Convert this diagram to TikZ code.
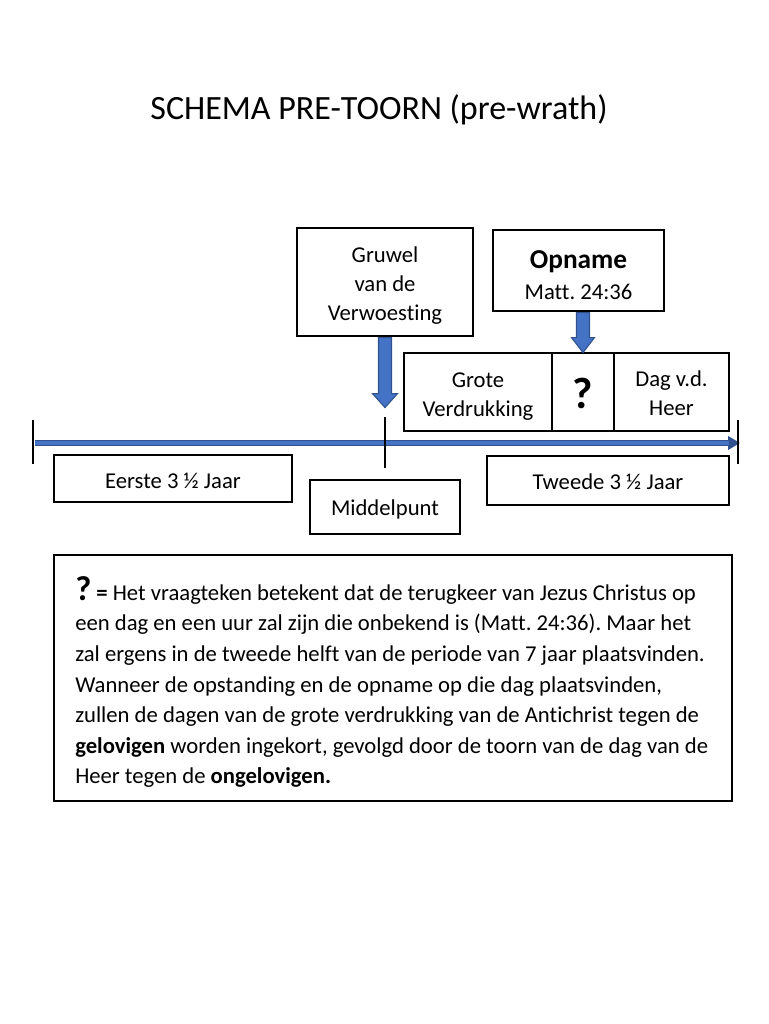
\documentclass[tikz,border=0pt]{standalone}
\usepackage{fontspec}
\setmainfont{Carlito}[Ligatures=NoCommon]
\usetikzlibrary{calc,arrows.meta}
\definecolor{arrowblue}{HTML}{4472C4}
\definecolor{arrowedge}{HTML}{2F528F}
\frenchspacing
\begin{document}
\begin{tikzpicture}[x=0.75pt,y=-0.75pt,
  box/.style={draw=black, line width=0.9pt, inner sep=0pt},
  lbl/.style={inner sep=0pt, align=center, font=\fontsize{17}{21.75}\selectfont},
  blockarrow/.style={fill=arrowblue, draw=arrowedge, line width=0.8pt},
  tick/.style={draw=black, line width=0.8pt}]
\useasboundingbox (0,0) rectangle (768,1024);

% title
\node[font=\fontsize{25.5}{30}\selectfont] (title) at (379,110) {SCHEMA PRE-TOORN (pre-wrath)};

% top boxes
\node[box, minimum width=132pt, minimum height=81pt,
  label={[lbl,yshift=-3pt]center:Gruwel\\van de\\Verwoesting}] (gruwel) at (385,282) {};
\node[box, minimum width=128.25pt, minimum height=60.75pt,
  label={[lbl,yshift=-3.5pt]center:{\fontsize{20.5}{24}\selectfont\bfseries Opname}\\[1pt]Matt. 24:36}] (opname) at (578.5,270.5) {};

% three-part box
\node[box, minimum width=111pt, minimum height=58.5pt,
  label={[lbl,yshift=-3.2pt]center:Grote\\Verdrukking}] (grote) at (478,392) {};
\node[box, minimum width=46.5pt, minimum height=58.5pt,
  label={[lbl,yshift=-0.8pt]center:{\fontsize{33}{34}\selectfont\bfseries ?}}] (q) at (583,392) {};
\node[box, minimum width=86.25pt, minimum height=58.5pt,
  label={[lbl,yshift=-1pt]center:Dag v.d.\\Heer}] (dag) at (671.5,392) {};

% block arrows
\draw[blockarrow] (gruwel.south) ++(-6.5,1) -- ++(0,56) -- ++(-6,0) -- ++(12.5,14)
  -- ++(12.5,-14) -- ++(-6,0) -- ++(0,-56) -- cycle;
\draw[blockarrow] (q.north |- opname.south) ++(-6.5,1) -- ++(0,25) -- ++(-5,0) -- ++(11.5,15)
  -- ++(11.5,-15) -- ++(-5,0) -- ++(0,-25) -- cycle;

% timeline
\coordinate (tl) at (35,443);
\coordinate (tr) at (740,443);
\draw[draw=arrowedge, line width=4.5pt, -{Triangle[length=9pt,width=10pt]}] (tl) -- (tr);
\draw[draw=arrowblue, line width=2.4pt, shorten >=8pt] (tl) -- (tr);
\coordinate (t1a) at (33,420); \coordinate (t1b) at (33,464);
\coordinate (t2a) at (385,417); \coordinate (t2b) at (385,468);
\coordinate (t3a) at (738,420); \coordinate (t3b) at (738,464);
\draw[tick] (t1a) -- (t1b);
\draw[tick] (t2a) -- (t2b);
\draw[tick] (t3a) -- (t3b);

% bottom boxes
\node[box, minimum width=178.5pt, minimum height=35.25pt,
  label={[lbl,yshift=-2pt]center:Eerste 3 ½ Jaar}] (eerste) at (173,478.5) {};
\node[box, minimum width=112.5pt, minimum height=40.5pt,
  label={[lbl,yshift=-1.5pt]center:Middelpunt}] (midden) at (385,507) {};
\node[box, minimum width=181.5pt, minimum height=36.75pt,
  label={[lbl,yshift=-0.8pt]center:Tweede 3 ½ Jaar}] (tweede) at (608,480.5) {};

% explanation
\node[box, minimum width=508.5pt, minimum height=184.5pt] (note) at (393,678) {};
\node[anchor=west, inner sep=0pt, align=left, font=\fontsize{17}{22.95}\selectfont] (notetext) at (75,682)
{{\fontsize{26}{24}\selectfont\bfseries ?} {\bfseries =} Het vraagteken betekent dat de terugkeer van Jezus Christus op\\
een dag en een uur zal zijn die onbekend is (Matt. 24:36). Maar het\\
zal ergens in de tweede helft van de periode van 7 jaar plaatsvinden.\\
Wanneer de opstanding en de opname op die dag plaatsvinden,\\
zullen de dagen van de grote verdrukking van de Antichrist tegen de\\
\textbf{gelovigen} worden ingekort, gevolgd door de toorn van de dag van de\\
Heer tegen de \textbf{ongelovigen.}};
\end{tikzpicture}
\end{document}
